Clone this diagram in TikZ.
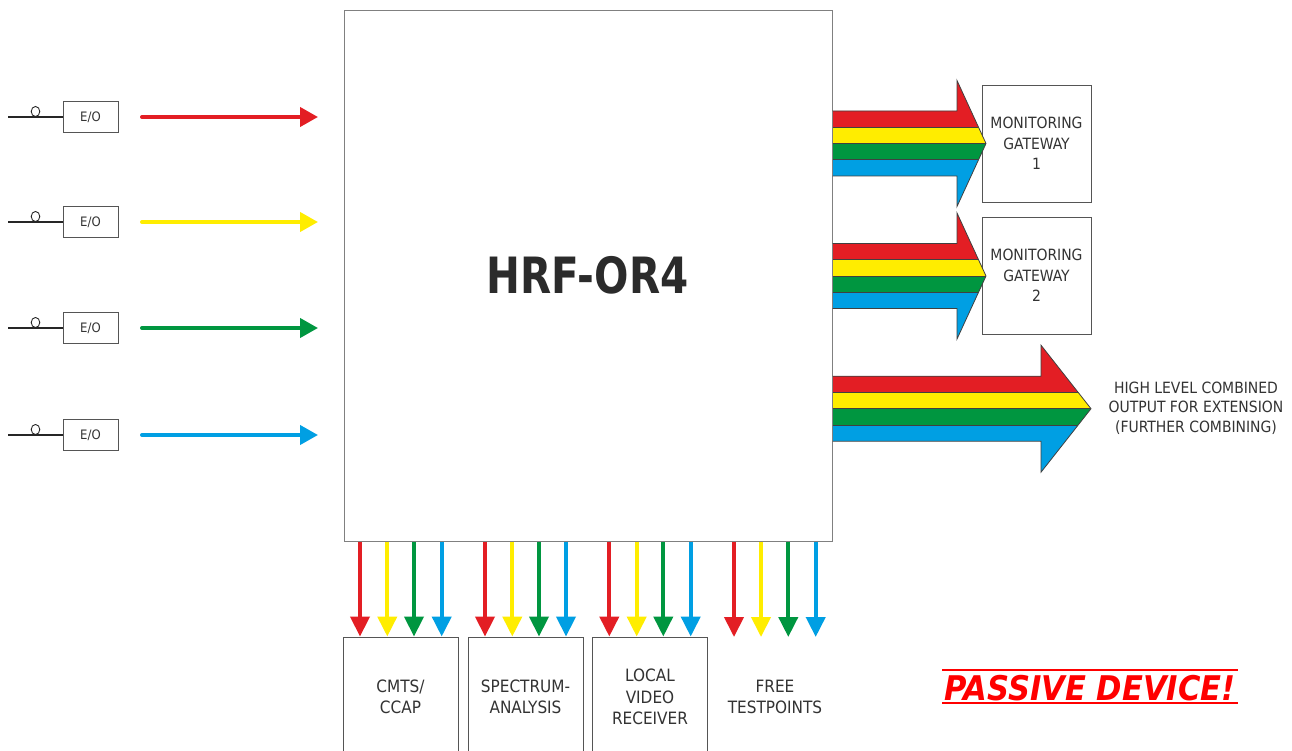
\documentclass[tikz,border=0pt]{standalone}
\usepackage{fontspec}
\setmainfont{DejaVu Sans Condensed}
\usetikzlibrary{arrows.meta}
\definecolor{cred}{HTML}{E31E24}
\definecolor{cyel}{HTML}{FFED00}
\definecolor{cgrn}{HTML}{009640}
\definecolor{cblu}{HTML}{009FE3}
\definecolor{txt}{HTML}{333333}
\definecolor{bord}{HTML}{555555}
\definecolor{mbord}{HTML}{808080}
\definecolor{pred}{HTML}{FF0000}
\newcommand\fatarrow[6]{%
\begin{scope}
\clip (#1,#4-2*#5) -- (#2,#4-2*#5) -- (#2,#4-#6) -- (#3,#4) -- (#2,#4+#6) -- (#2,#4+2*#5) -- (#1,#4+2*#5) -- cycle;
\fill[cred] (#1,#4-#6) rectangle (#3,#4-#5);
\fill[cyel] (#1,#4-#5) rectangle (#3,#4);
\fill[cgrn] (#1,#4) rectangle (#3,#4+#5);
\fill[cblu] (#1,#4+#5) rectangle (#3,#4+#6);
\draw[sepline] (#1,#4-#5) -- (#3,#4-#5) (#1,#4) -- (#3,#4) (#1,#4+#5) -- (#3,#4+#5);
\end{scope}
\draw[outl] (#1,#4-2*#5) -- (#2,#4-2*#5) -- (#2,#4-#6) -- (#3,#4) -- (#2,#4+#6) -- (#2,#4+2*#5) -- (#1,#4+2*#5);
}
\begin{document}
\begin{tikzpicture}[x=1pt,y=-1pt,
  box/.style={draw=bord, line width=0.9pt, fill=white, text=txt, align=center, inner sep=0pt,
    font=\fontsize{15.5}{20.5}\selectfont},
  bbox/.style={box, minimum width=115pt, minimum height=120pt, font=\fontsize{17}{21.5}\selectfont},
  eobox/.style={draw=bord, line width=0.9pt, minimum width=55pt, minimum height=31pt, inner sep=0pt,
    text=txt, font=\fontsize{13}{15}\selectfont},
  lbl/.style={text=txt, align=center, inner sep=0pt, font=\fontsize{15.5}{19.5}\selectfont},
  sig/.style={line width=4pt, line cap=round, -{Triangle[length=18pt,width=19pt]}},
  dsig/.style={line width=4pt, -{Triangle[length=20pt,width=19pt]}},
  fiber/.style={line width=1.6pt, black!85},
  sepline/.style={line width=0.7pt, black!75},
  outl/.style={line width=0.8pt, black!75, line join=miter}]
\useasboundingbox (0,0) rectangle (1292,751);
\fill[white] (0,0) rectangle (1292,751);

% main device
\node[draw=mbord, line width=1pt, fill=white, minimum width=488pt, minimum height=530pt, inner sep=0pt] (main) at (588,276) {};
\node[text=black!83, inner sep=0pt, font=\fontsize{50}{50}\selectfont\bfseries] (title) at (587.5,275) {\scalebox{0.9}[1]{HRF-OR4}};

% inputs
\foreach \i/\y/\c in {1/117/cred, 2/222/cyel, 3/328/cgrn, 4/435/cblu}{
  \node[eobox] (eo\i) at (90.5,\y) {E/O};
  \coordinate (fib\i) at (8,\y);
  \draw[fiber] (fib\i) -- (eo\i.west);
  \draw[line width=0.9pt, black!85] (35.5,\y-5.5) ellipse [x radius=4.3pt, y radius=5pt];
  \coordinate (in\i s) at (142,\y);
  \coordinate (in\i e) at (318,\y);
  \draw[sig, \c] (in\i s) -- (in\i e);
}

% gateways
\node[box, minimum width=109pt, minimum height=117pt] (gw1) at (1036.5,143.5) {MONITORING\\GATEWAY\\1};
\node[box, minimum width=109pt, minimum height=117pt] (gw2) at (1036.5,275.5) {MONITORING\\GATEWAY\\2};

% fat arrows
\fatarrow{832.5}{957}{986}{143.5}{16.25}{63}
\fatarrow{832.5}{957}{986}{276}{16.25}{63}
\fatarrow{832.5}{1041}{1091}{408.7}{16.25}{63.5}

\node[lbl] (ext) at (1196,408) {HIGH LEVEL COMBINED\\OUTPUT FOR EXTENSION\\(FURTHER COMBINING)};

% bottom boxes
\node[bbox] (cmts) at (400.5,697) {CMTS/\\CCAP};
\node[bbox] (spec) at (525.5,697) {SPECTRUM-\\ANALYSIS};
\node[bbox] (lvr) at (650,697) {LOCAL\\VIDEO\\RECEIVER};
\node[lbl, font=\fontsize{17}{21.5}\selectfont] (free) at (775,697) {FREE\\TESTPOINTS};
\coordinate (freetop) at (775,637);

\foreach \x/\c in {360/cred, 387.3/cyel, 414/cgrn, 441.7/cblu}
  \draw[dsig, \c] (\x,0 |- main.south) -- (\x,0 |- cmts.north);
\foreach \x/\c in {485/cred, 512.3/cyel, 539/cgrn, 566/cblu}
  \draw[dsig, \c] (\x,0 |- main.south) -- (\x,0 |- spec.north);
\foreach \x/\c in {609.3/cred, 636.7/cyel, 663.3/cgrn, 690.7/cblu}
  \draw[dsig, \c] (\x,0 |- main.south) -- (\x,0 |- lvr.north);
\foreach \x/\c in {734/cred, 761/cyel, 788.3/cgrn, 815.7/cblu}
  \draw[dsig, \c] (\x,0 |- main.south) -- (\x,0 |- freetop);

% passive device
\node[text=pred, inner sep=0pt, font=\fontsize{34}{34}\selectfont\bfseries\itshape] (pd) at (1090,688) {PASSIVE DEVICE!};
\draw[pred, line width=2pt] (942,669.7) -- (1238,669.7);
\draw[pred, line width=2pt] (942,702.7) -- (1238,702.7);
\end{tikzpicture}
\end{document}
